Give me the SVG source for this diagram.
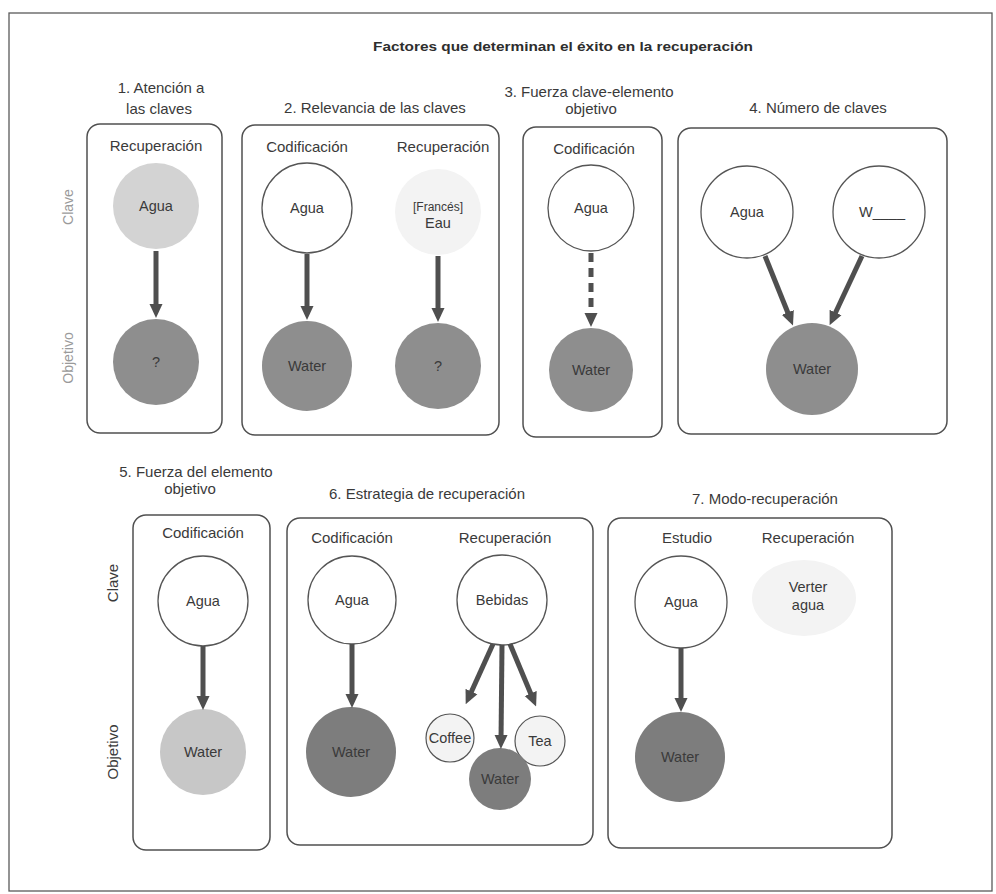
<svg xmlns="http://www.w3.org/2000/svg" width="996" height="894" viewBox="0 0 996 894">
  <style>
    text { font-family: "Liberation Sans", Arial, sans-serif; font-size: 15px; fill: #3a3a3a; text-anchor: middle; }
    .title { font-size: 13.5px; font-weight: bold; fill: #2e2e2e; }
    .small { font-size: 12px; }
    .node { font-size: 14.5px; }
    .side { fill: #9a9a9a; font-size: 14px; }
    .panel { fill: none; stroke: #505050; stroke-width: 1.5; }
    .cue { fill: #ffffff; stroke: #555555; stroke-width: 1.3; }
    .cue-light { fill: #d3d3d3; }
    .cue-faint { fill: #f3f3f3; }
    .target { fill: #8e8e8e; }
    .target-dark { fill: #7d7d7d; }
    .target-light { fill: #c7c7c7; }
    .alt { fill: #f3f3f3; stroke: #555555; stroke-width: 1.2; }
    .arrow { fill: none; stroke: #4f4f4f; stroke-width: 5; marker-end: url(#head); }
    .dashed { stroke-dasharray: 9 6; }
  </style>
  <defs>
    <marker id="head" markerUnits="userSpaceOnUse" markerWidth="14" markerHeight="14" viewBox="0 0 14 14" refX="6" refY="7" orient="auto">
      <path d="M0,0.5 L14,7 L0,13.5 z" fill="#4f4f4f"/>
    </marker>
  </defs>

  <rect width="996" height="894" fill="#ffffff"/>
  <rect x="9" y="13" width="983" height="878" fill="none" stroke="#5a5a5a" stroke-width="1.3"/>

  <text class="title" x="563" y="51" textLength="380" lengthAdjust="spacingAndGlyphs">Factores que determinan el éxito en la recuperación</text>

  <!-- row labels -->
  <g id="labels-top">
    <text class="side" transform="rotate(-90 73 207)" x="73" y="207">Clave</text>
    <text class="side" transform="rotate(-90 73 358)" x="73" y="358">Objetivo</text>
  </g>
  <g id="labels-bottom">
    <text transform="rotate(-90 118 583)" x="118" y="583">Clave</text>
    <text transform="rotate(-90 118 752)" x="118" y="752">Objetivo</text>
  </g>

  <!-- 1. Atención a las claves -->
  <g id="panel1">
    <text x="161" y="93">1. Atención a</text>
    <text x="159" y="114">las claves</text>
    <rect class="panel" x="87" y="124" width="135" height="309" rx="13"/>
    <text x="156" y="151">Recuperación</text>
  </g>
  <g id="p1-cue">
    <circle class="cue-light" cx="156" cy="206" r="43"/>
    <text class="node" x="156" y="211">Agua</text>
  </g>
  <g id="p1-target">
    <circle class="target" cx="156" cy="362" r="43"/>
    <text class="node" x="156" y="367">?</text>
  </g>

  <!-- 2. Relevancia de las claves -->
  <g id="panel2">
    <text x="375" y="113">2. Relevancia de las claves</text>
    <rect class="panel" x="242" y="125" width="257" height="310" rx="13"/>
    <text x="307" y="152">Codificación</text>
    <text x="443" y="152">Recuperación</text>
  </g>
  <g id="p2-cue-enc">
    <circle class="cue" cx="307" cy="208" r="45"/>
    <text class="node" x="307" y="213">Agua</text>
  </g>
  <g id="p2-target-enc">
    <circle class="target" cx="307" cy="366" r="45"/>
    <text class="node" x="307" y="371">Water</text>
  </g>
  <g id="p2-cue-ret">
    <circle class="cue-faint" cx="438" cy="212" r="43"/>
    <text class="small" x="438" y="211">[Francés]</text>
    <text class="node" x="438" y="228">Eau</text>
  </g>
  <g id="p2-target-ret">
    <circle class="target" cx="438" cy="366" r="43"/>
    <text class="node" x="438" y="371">?</text>
  </g>

  <!-- 3. Fuerza clave-elemento objetivo -->
  <g id="panel3">
    <text x="589" y="97">3. Fuerza clave-elemento</text>
    <text x="591" y="114">objetivo</text>
    <rect class="panel" x="523" y="127" width="139" height="310" rx="13"/>
    <text x="594" y="154">Codificación</text>
  </g>
  <g id="p3-cue">
    <circle class="cue" cx="591" cy="208" r="43"/>
    <text class="node" x="591" y="213">Agua</text>
  </g>
  <g id="p3-target">
    <circle class="target" cx="591" cy="370" r="42"/>
    <text class="node" x="591" y="375">Water</text>
  </g>

  <!-- 4. Número de claves -->
  <g id="panel4">
    <text x="818" y="113">4. Número de claves</text>
    <rect class="panel" x="678" y="128" width="269" height="306" rx="13"/>
  </g>
  <g id="p4-cue-a">
    <circle class="cue" cx="747" cy="212" r="46"/>
    <text class="node" x="747" y="217">Agua</text>
  </g>
  <g id="p4-cue-w">
    <circle class="cue" cx="879" cy="212" r="46"/>
    <text class="node" x="882" y="217">W____</text>
  </g>
  <g id="p4-target">
    <circle class="target" cx="812" cy="369" r="46"/>
    <text class="node" x="812" y="374">Water</text>
  </g>

  <!-- 5. Fuerza del elemento objetivo -->
  <g id="panel5">
    <text x="196" y="477">5. Fuerza del elemento</text>
    <text x="190" y="494">objetivo</text>
    <rect class="panel" x="133" y="515" width="137" height="335" rx="13"/>
    <text x="203" y="538">Codificación</text>
  </g>
  <g id="p5-cue">
    <circle class="cue" cx="203" cy="601" r="45"/>
    <text class="node" x="203" y="606">Agua</text>
  </g>
  <g id="p5-target">
    <circle class="target-light" cx="203" cy="752" r="43"/>
    <text class="node" x="203" y="757">Water</text>
  </g>

  <!-- 6. Estrategia de recuperación -->
  <g id="panel6">
    <text x="427" y="499">6. Estrategia de recuperación</text>
    <rect class="panel" x="287" y="518" width="306" height="327" rx="13"/>
    <text x="352" y="543">Codificación</text>
    <text x="505" y="543">Recuperación</text>
  </g>
  <g id="p6-cue-enc">
    <circle class="cue" cx="352" cy="600" r="44"/>
    <text class="node" x="352" y="605">Agua</text>
  </g>
  <g id="p6-target-enc">
    <circle class="target-dark" cx="351" cy="752" r="45"/>
    <text class="node" x="351" y="757">Water</text>
  </g>
  <g id="p6-cue-ret">
    <circle class="cue" cx="502" cy="600" r="45"/>
    <text class="node" x="502" y="605">Bebidas</text>
  </g>
  <g id="p6-coffee">
    <circle class="alt" cx="450" cy="738" r="24"/>
    <text class="node" x="450" y="743">Coffee</text>
  </g>
  <g id="p6-tea">
    <circle class="alt" cx="540" cy="741" r="25"/>
    <text class="node" x="540" y="746">Tea</text>
  </g>
  <g id="p6-water">
    <circle class="target-dark" cx="500" cy="779" r="31"/>
    <text class="node" x="500" y="784">Water</text>
  </g>

  <!-- 7. Modo-recuperación -->
  <g id="panel7">
    <text x="765" y="504">7. Modo-recuperación</text>
    <rect class="panel" x="608" y="518" width="284" height="330" rx="13"/>
    <text x="687" y="543">Estudio</text>
    <text x="808" y="543">Recuperación</text>
  </g>
  <g id="p7-cue-study">
    <circle class="cue" cx="681" cy="602" r="46"/>
    <text class="node" x="681" y="607">Agua</text>
  </g>
  <g id="p7-target">
    <circle class="target-dark" cx="680" cy="757" r="45"/>
    <text class="node" x="680" y="762">Water</text>
  </g>
  <g id="p7-cue-ret">
    <ellipse class="cue-faint" cx="804" cy="598" rx="52" ry="38"/>
    <text class="node" x="808" y="592">Verter</text>
    <text class="node" x="808" y="610">agua</text>
  </g>

  <!-- connectors -->
  <g id="connectors">
    <line class="arrow" x1="156" y1="251" x2="156" y2="310"/>
    <line class="arrow" x1="307" y1="254" x2="307" y2="312"/>
    <line class="arrow" x1="438" y1="256" x2="438" y2="314"/>
    <line class="arrow dashed" x1="591" y1="253" x2="591" y2="319"/>
    <line class="arrow" x1="765" y1="256" x2="790" y2="318"/>
    <line class="arrow" x1="862" y1="256" x2="833" y2="318"/>
    <line class="arrow" x1="203" y1="646" x2="203" y2="702"/>
    <line class="arrow" x1="352" y1="644" x2="352" y2="700"/>
    <line class="arrow" x1="493" y1="644" x2="469" y2="697"/>
    <line class="arrow" x1="502" y1="645" x2="501" y2="741"/>
    <line class="arrow" x1="510" y1="644" x2="533" y2="699"/>
    <line class="arrow" x1="681" y1="648" x2="681" y2="704"/>
  </g>
</svg>
